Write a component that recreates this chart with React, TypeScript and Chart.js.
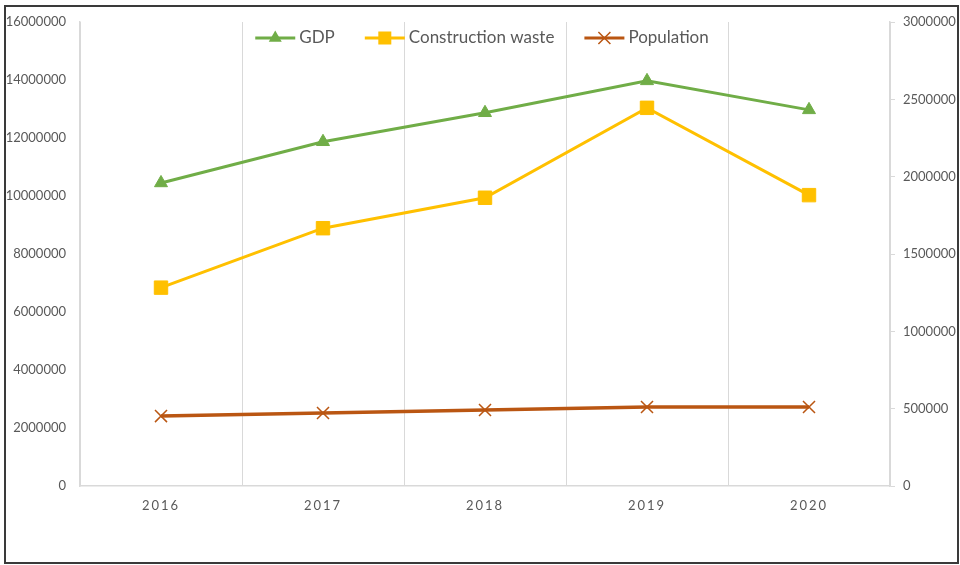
import React, { useEffect, useRef } from "react";
import { Chart, registerables } from "chart.js";

Chart.register(...registerables);

const years = ["2016", "2017", "2018", "2019", "2020"];
const gdp = [10450000, 11870000, 12870000, 13970000, 12970000];
const constructionWaste = [6840000, 8890000, 9940000, 13040000, 10030000];
const population = [452000, 472000, 491000, 511000, 511000];

const leftMax = 16000000;
const leftStep = 2000000;
const rightMax = 3000000;
const rightStep = 500000;

const GREEN = "#70AD47";
const GOLD = "#FFC000";
const BROWN = "#BA5612";
const TEXT = "#595959";
const GRID = "#D9D9D9";
const FONT = "Lato, 'Open Sans', sans-serif";

type LegendItem = { label: string; color: string; marker: string };

const legendItems: LegendItem[] = [
  { label: "GDP", color: GREEN, marker: "triangle" },
  { label: "Construction waste", color: GOLD, marker: "rect" },
  { label: "Population", color: BROWN, marker: "crossRot" },
];

function drawMarker(ctx: CanvasRenderingContext2D, kind: string, x: number, y: number, color: string) {
  ctx.save();
  ctx.fillStyle = color;
  ctx.strokeStyle = color;
  if (kind === "triangle") {
    const r = 7.5;
    ctx.beginPath();
    ctx.moveTo(x, y - r);
    ctx.lineTo(x + r * Math.cos(Math.PI / 6), y + r * 0.5);
    ctx.lineTo(x - r * Math.cos(Math.PI / 6), y + r * 0.5);
    ctx.closePath();
    ctx.fill();
  } else if (kind === "rect") {
    const s = 6.5;
    ctx.fillRect(x - s, y - s, 2 * s, 2 * s);
  } else {
    const o = 6;
    ctx.lineWidth = 1.5;
    ctx.beginPath();
    ctx.moveTo(x - o, y - o);
    ctx.lineTo(x + o, y + o);
    ctx.moveTo(x - o, y + o);
    ctx.lineTo(x + o, y - o);
    ctx.stroke();
  }
  ctx.restore();
}

const legendPlugin = {
  id: "overlayLegend",
  afterDraw(chart: any) {
    const ctx: CanvasRenderingContext2D = chart.ctx;
    const area = chart.chartArea;
    const lineLen = 40;
    const gap = 4;
    const itemGap = 30;
    ctx.save();
    ctx.font = `17px ${FONT}`;
    const widths = legendItems.map((it) => ctx.measureText(it.label).width);
    const total =
      widths.reduce((a, b) => a + b, 0) + legendItems.length * (lineLen + gap) + itemGap * (legendItems.length - 1);
    let x = (area.left + area.right) / 2 - total / 2 - 3;
    const y = area.top + 16;
    legendItems.forEach((it, i) => {
      ctx.strokeStyle = it.color;
      ctx.lineWidth = 3;
      ctx.beginPath();
      ctx.moveTo(x, y);
      ctx.lineTo(x + lineLen, y);
      ctx.stroke();
      drawMarker(ctx, it.marker, x + lineLen / 2, y, it.color);
      x += lineLen + gap;
      ctx.fillStyle = TEXT;
      ctx.textBaseline = "middle";
      ctx.textAlign = "left";
      ctx.fillText(it.label, x, y);
      x += widths[i] + itemGap;
    });
    ctx.restore();
  },
};

const spacedXLabels = {
  id: "spacedXLabels",
  afterLayout(chart: any) {
    const s = chart.scales.x;
    if (s && !s.__spaced) {
      const orig = s.drawLabels.bind(s);
      s.drawLabels = (area: any) => {
        const ctx: any = chart.ctx;
        ctx.save();
        ctx.letterSpacing = "2px";
        orig(area);
        ctx.restore();
      };
      s.__spaced = true;
    }
  },
};

export default function App() {
  const canvasRef = useRef<HTMLCanvasElement | null>(null);

  useEffect(() => {
    if (!canvasRef.current) return;
    const chart = new Chart(canvasRef.current, {
      type: "line",
      data: {
        labels: years,
        datasets: [
          {
            label: "GDP",
            data: gdp,
            yAxisID: "y",
            borderColor: GREEN,
            backgroundColor: GREEN,
            borderWidth: 3,
            pointStyle: "triangle",
            pointRadius: 7.5,
            pointBorderWidth: 1,
            tension: 0,
          },
          {
            label: "Construction waste",
            data: constructionWaste,
            yAxisID: "y",
            borderColor: GOLD,
            backgroundColor: GOLD,
            borderWidth: 3,
            pointStyle: "rect",
            pointRadius: 9.5,
            pointBorderWidth: 1,
            tension: 0,
          },
          {
            label: "Population",
            data: population,
            yAxisID: "y1",
            borderColor: BROWN,
            backgroundColor: BROWN,
            borderWidth: 3.5,
            pointStyle: "crossRot",
            pointRadius: 8.5,
            pointBorderWidth: 1.5,
            tension: 0,
          },
        ],
      },
      options: {
        animation: false,
        responsive: false,
        devicePixelRatio: 1,
        layout: { padding: { top: 22, left: 0, right: 0, bottom: 0 } },
        plugins: {
          legend: { display: false },
          tooltip: { enabled: false },
        },
        scales: {
          x: {
            offset: true,
            grid: { display: true, offset: true, color: GRID, lineWidth: 1, drawTicks: false },
            border: { display: true, color: GRID, width: 1.5 },
            ticks: { color: TEXT, font: { family: FONT, size: 13 }, padding: 12 },
            afterFit: (scale: any) => {
              scale.height = 79;
            },
          },
          y: {
            position: "left",
            min: 0,
            max: leftMax,
            grid: { display: false, drawTicks: false },
            border: { display: true, color: GRID, width: 1.5 },
            ticks: {
              stepSize: leftStep,
              color: TEXT,
              font: { family: FONT, size: 13 },
              padding: 14,
              callback: (v: any) => String(v),
            },
            afterFit: (scale: any) => {
              scale.width = 80;
            },
          },
          y1: {
            position: "right",
            min: 0,
            max: rightMax,
            grid: { display: true, drawOnChartArea: false, drawTicks: true, tickLength: 5, color: GRID },
            border: { display: true, color: GRID, width: 1.5 },
            ticks: {
              stepSize: rightStep,
              color: TEXT,
              font: { family: FONT, size: 13 },
              padding: 8,
              callback: (v: any) => String(v),
            },
            afterFit: (scale: any) => {
              scale.width = 70;
            },
          },
        },
      } as any,
      plugins: [legendPlugin, spacedXLabels],
    });
    return () => chart.destroy();
  }, []);

  return (
    <div style={{ position: "fixed", left: 0, top: 0, width: 960, height: 565, background: "#fff" }}>
      <div
        style={{
          position: "absolute",
          left: 4,
          top: 5,
          width: 955,
          height: 559,
          border: "2px solid #3a3a3a",
          boxSizing: "border-box",
        }}
      />
      <canvas ref={canvasRef} width={960} height={565} style={{ position: "absolute", left: 0, top: 0 }} />
    </div>
  );
}
